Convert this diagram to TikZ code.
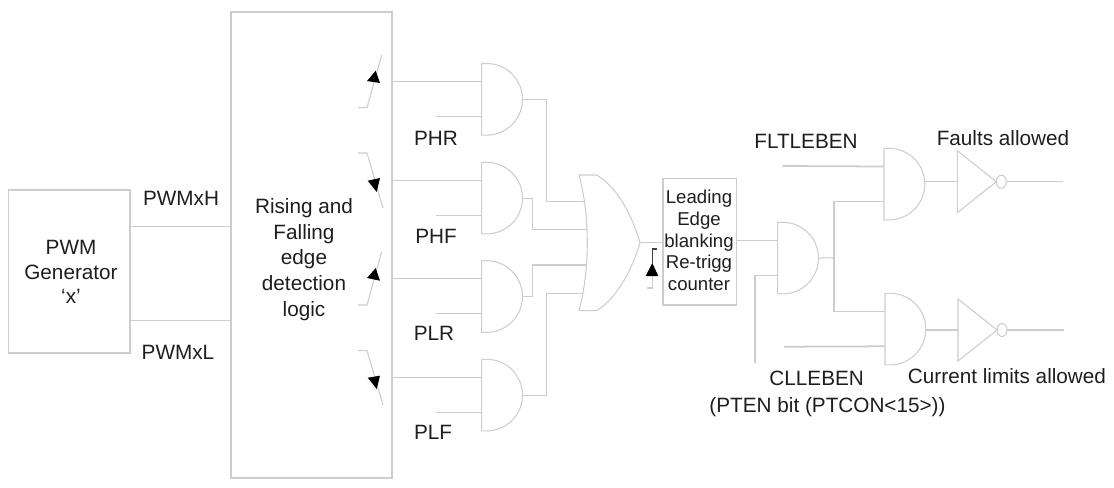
\documentclass[tikz,border=0pt]{standalone}
\usepackage{fontspec}
\setmainfont{Liberation Sans}
\definecolor{wiregray}{HTML}{CDCDCD}
\definecolor{inkgray}{HTML}{1E1E1E}
\tikzset{
  wire/.style={wiregray, line width=0.6pt},
  boldwire/.style={wiregray, line width=1pt},
  blockbox/.style={draw=wiregray, line width=0.8pt, inner sep=0pt, text=inkgray, align=center},
  txt/.style={inner sep=0pt, text=inkgray, font=\fontsize{11.75}{13.9}\selectfont, align=center},
  smalltxt/.style={txt, font=\fontsize{10.55}{12.3}\selectfont},
}
% and gate: name, left edge, top edge
\newcommand{\andgate}[3]{
  \draw [wire] (#2,#3) -- (#2+5,#3) arc (90:-90:35.8) -- (#2,#3-71.6) -- cycle;
  \coordinate (#1a) at (#2,#3-18.2);
  \coordinate (#1b) at (#2,#3-53);
  \coordinate (#1c) at (#2-45.7,#3-53);
  \coordinate (#1o) at (#2+40.8,#3-35.8);
}
% inverter with bubble: name, left edge, top edge
\newcommand{\notgate}[3]{
  \draw [wire] (#2,#3) -- (#2+39,#3-31) -- (#2,#3-62) -- cycle;
  \draw [wire] (#2+44,#3-31) ellipse (5 and 6.5);
  \coordinate (#1i) at (#2,#3-31);
  \coordinate (#1o) at (#2+49,#3-31);
  \coordinate (#1e) at (#2+106,#3-31);
}
\begin{document}
\begin{tikzpicture}[x=0.567pt,y=0.567pt]
\useasboundingbox (0,0) rectangle (1114,-487);
% blocks
\node (pwm) [blockbox, minimum width=68.9pt, minimum height=92.4pt] at (69.2,-271.5) {};
\node (logic) [blockbox, minimum width=91.3pt, minimum height=264pt] at (311.5,-245) {};
\node (leb) [blockbox, minimum width=41.8pt, minimum height=71.8pt] at (699.8,-241.7) {};
% block texts
\node (pwmtxt) [txt] at (71,-272) {PWM\\Generator\\`x'};
\node (logictxt) [txt, font=\fontsize{11.75}{14.6}\selectfont] at (304,-259.5) {Rising and\\Falling\\edge\\detection\\logic};
\node (lebtxt) [smalltxt] at (699,-240.5) {Leading\\Edge\\blanking\\Re-trigg\\counter};
% labels
\node (lblh) [txt] at (181,-198) {PWMxH};
\node (lbll) [txt] at (178,-352) {PWMxL};
\node (lblphr) [txt] at (436,-138) {PHR};
\node (lblphf) [txt] at (436,-236.5) {PHF};
\node (lblplr) [txt] at (434,-333) {PLR};
\node (lblplf) [txt] at (433,-432.5) {PLF};
\node (lblflt) [txt] at (806,-141) {FLTLEBEN};
\node (lblcll) [txt] at (816.7,-378) {CLLEBEN};
\node (lblpten) [txt] at (827.5,-406.7) {(PTEN bit (PTCON<15>))};
\node (lblfault) [txt] at (1003,-137.7) {Faults allowed};
\node (lblcurr) [txt] at (1007,-376) {Current limits allowed};
% gates
\andgate{ga}{481.7}{-63.5}
\andgate{gb}{481.7}{-162.3}
\andgate{gc}{481.7}{-260.7}
\andgate{gd}{481.7}{-359.3}
\andgate{ge}{777.7}{-222.3}
\andgate{gf}{884}{-148.3}
\andgate{gg}{885}{-293.3}
\notgate{na}{957.3}{-150.7}
\notgate{nb}{958}{-299}
\draw [wire] (579,-175) -- (596.7,-175) .. controls (617,-187) and (632,-215) .. (640,-242.7) .. controls (632,-270) and (617,-298) .. (596.7,-310.7) -- (579,-310.7) .. controls (590,-270) and (590,-215) .. cycle;
% coordinates for the wires
\coordinate (pwmh) at (180,-226.7);
\coordinate (pwml) at (180,-320.7);
\coordinate (ora) at (585,-201.7);
\coordinate (orb) at (587,-229.3);
\coordinate (orc) at (586,-265);
\coordinate (ord) at (583,-293.3);
\coordinate (oro) at (640,-242.7);
\coordinate (busa) at (546.7,0);
\coordinate (busb) at (532.3,0);
\coordinate (busc) at (755,-363);
\coordinate (busd) at (834,-257.7);
\coordinate (fltin) at (782.7,-166);
\coordinate (cllin) at (784,-346.7);
% wires
\draw [wire] (pwm.east |- pwmh) -- (logic.west |- pwmh);
\draw [wire] (pwm.east |- pwml) -- (logic.west |- pwml);
\draw [wire] (logic.east |- gaa) -- (gaa);
\draw [wire] (logic.east |- gba) -- (gba);
\draw [wire] (logic.east |- gca) -- (gca);
\draw [wire] (logic.east |- gda) -- (gda);
\draw [wire] (gac) -- (gab);
\draw [wire] (gbc) -- (gbb);
\draw [wire] (gcc) -- (gcb);
\draw [wire] (gdc) -- (gdb);
\draw [wire] (gao) -- (gao -| busa) |- (ora);
\draw [wire] (gbo) -- (gbo -| busb) |- (orb);
\draw [wire] (gco) -- (gco -| busb) |- (orc);
\draw [wire] (gdo) -- (gdo -| busa) |- (ord);
\draw [wire] (oro) -- (leb.west |- oro);
\draw [wire] (leb.east |- gea) -- (gea);
\draw [wire] (busc) |- (geb);
\draw [wire] (geo) -- (busd);
\draw [wire] (gfb) -| (busd) |- (gga);
\draw [boldwire] (fltin) -- (gfa);
\draw [boldwire] (cllin) -- (ggb);
\draw [wire] (nai -| gfo) -- (nai);
\draw [wire] (nbi -| ggo) -- (nbi);
\draw [wire] (nao) -- (nae);
\draw [wire] (nbo) -- (nbe);
% switches
\draw [wire] (358,-107.7) -- (367,-107.7) -- (381.7,-55);
\fill [black] (375.7,-70.7) -- (367,-81) -- (380,-83) -- cycle;
\draw [wire] (358,-153) -- (367,-153) -- (383,-208);
\fill [black] (367.7,-180.7) -- (380,-178) -- (376.7,-192) -- cycle;
\draw [wire] (358,-305) -- (367,-305) -- (381.7,-251.7);
\fill [black] (375.7,-268) -- (367,-278) -- (380,-280.7) -- cycle;
\draw [wire] (358,-350.7) -- (367,-350.7) -- (383,-405);
\fill [black] (367.7,-377.7) -- (380,-375.7) -- (376.7,-389) -- cycle;
% re-trigger mark
\draw [wire] (652.3,-276) -- (652.3,-288) -- (647.3,-288);
\draw [black!75, line width=0.6pt] (656.7,-249) -- (652.3,-249) -- (652.3,-263);
\fill [black] (652.3,-263) -- (645.7,-276) -- (658.3,-276) -- cycle;
\end{tikzpicture}
\end{document}
